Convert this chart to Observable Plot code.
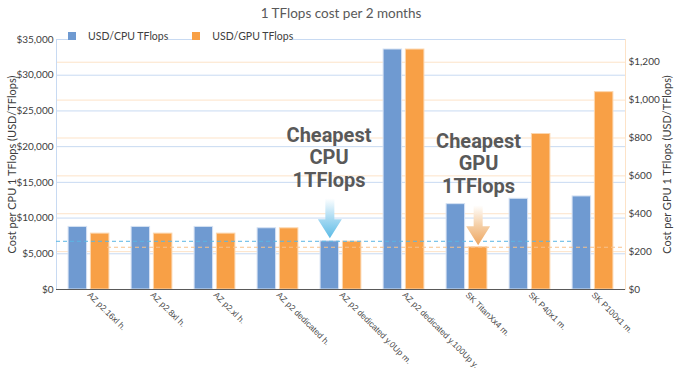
<!DOCTYPE html>
<html><head><meta charset="utf-8">
<script src="https://cdn.jsdelivr.net/npm/d3@7"></script>
<script src="https://cdn.jsdelivr.net/npm/@observablehq/plot@0.6"></script>
<style>
body{margin:0;background:#fff;font-family:Lato,"Open Sans",sans-serif;}
#wrap{position:relative;width:682px;height:377px;overflow:hidden;}
#title{position:absolute;top:5px;left:0;width:682px;text-align:center;font-size:13.5px;color:#595959;z-index:2;}
#legend{position:absolute;top:29px;left:68px;display:flex;gap:24px;font-size:10.5px;color:#404040;z-index:2;}
.item{display:flex;align-items:center;background:#fff;height:14px;}
.sw{width:8px;height:8px;margin-right:12px;display:inline-block;}
#chart{position:absolute;top:0;left:0;}
g[aria-label="annotation"] text{filter:drop-shadow(1px 2px 1.5px rgba(0,0,0,0.35));}
</style></head><body>
<div id="wrap">
<div id="title">1 TFlops cost per 2 months</div>
<div id="legend"></div>
<div id="chart"></div>
</div>
<script>
const categories = ["AZ p2.16xl h.", "AZ p2.8xl h.", "AZ p2.xl h.", "AZ p2 dedicated h.", "AZ p2 dedicated y.0Up m.", "AZ p2 dedicated y.100Up y.", "SK TitanXx4 m.", "SK P40x1 m.", "SK P100x1 m."];
const seriesNames = ["USD/CPU TFlops", "USD/GPU TFlops"];
const cpuValues = [8760, 8760, 8760, 8575, 6750, 33600, 11950, 12700, 13030];
const gpuValues = [295, 295, 295, 323, 253, 1267, 223, 821, 1042];
const cpuTicks = [0, 5000, 10000, 15000, 20000, 25000, 30000, 35000];
const gpuTicks = [0, 200, 400, 600, 800, 1000, 1200];
const cpuAxisMax = 35000;
const gpuAxisMax = 1320;
const annotationLabels = ["Cheapest\nCPU\n1TFlops", "Cheapest\nGPU\n1TFlops"];
const yLabels = ["Cost per CPU 1 TFlops (USD/TFlops)", "Cost per GPU 1 TFlops (USD/TFlops)"];

const cpuColor = "#6f9ad1", gpuColor = "#f8a046";
const k = cpuAxisMax / gpuAxisMax; // GPU -> shared y scale
const data = categories.map((c, i) => ({category: c, cpu: cpuValues[i], gpu: gpuValues[i]}));
const cpuMin = d3.min(cpuValues), gpuMin = d3.min(gpuValues);
const cpuAnn = [{category: categories[d3.minIndex(cpuValues)], v: cpuMin, label: annotationLabels[0]}];
const gpuAnn = [{category: categories[d3.minIndex(gpuValues)], v: gpuMin * k, label: annotationLabels[1]}];
const money = d3.format(",");

const arrowSymbol = {draw(ctx) {
  ctx.moveTo(-4.5, -40); ctx.lineTo(4.5, -40); ctx.lineTo(4.5, -19); ctx.lineTo(12, -19);
  ctx.lineTo(0, 0); ctx.lineTo(-12, -19); ctx.lineTo(-4.5, -19); ctx.closePath();
}};

const font = "Lato, 'Open Sans', sans-serif";
const annFont = "Roboto, 'Open Sans', sans-serif";

const plot = Plot.plot({
  width: 682, height: 377,
  marginTop: 39, marginBottom: 88, marginLeft: 56, marginRight: 57,
  style: {fontFamily: font, fontSize: "10px", color: "#404040", background: "#fff"},
  x: {domain: categories, padding: 0, axis: null},
  y: {domain: [0, cpuAxisMax], axis: null},
  marks: [
    Plot.gridY(cpuTicks, {stroke: "#c8daf2", strokeOpacity: 1}),
    Plot.gridY(gpuTicks.map(v => v * k), {stroke: "#fde3c8", strokeOpacity: 1}),
    Plot.frame({anchor: "left", stroke: "#c8daf2"}),
    Plot.frame({anchor: "right", stroke: "#fde3c8"}),
    Plot.barY(data, {x: "category", y: "cpu", fill: cpuColor, stroke: "#d6e2f3", strokeWidth: 1, insetLeft: 11.1, insetRight: 33.4}),
    Plot.barY(data, {x: "category", y: d => d.gpu * k, fill: gpuColor, stroke: "#fcd6ae", strokeWidth: 1, insetLeft: 33.4, insetRight: 11.1}),
    Plot.ruleY([cpuMin], {stroke: "#5ab5e4", strokeDasharray: "4,3", insetRight: 53}),
    Plot.ruleY([gpuMin * k], {stroke: "#f7c18c", strokeDasharray: "4,3", insetLeft: 51}),
    Plot.ruleY([0], {stroke: "#595959", strokeWidth: 1}),
    Plot.axisY(cpuTicks, {anchor: "left", tickSize: 0, tickPadding: 3, label: null, tickFormat: d => "$" + money(d), color: "#404040"}),
    Plot.axisY(gpuTicks.map(v => v * k), {anchor: "right", tickSize: 0, tickPadding: 3, label: null, tickFormat: d => "$" + money(Math.round(d / k)), color: "#404040"}),
    Plot.axisX({tickRotate: 45, tickSize: 0, tickPadding: 4, textAnchor: "start", fontSize: 8.5, fontFamily: "'Liberation Sans', Arial, sans-serif", color: "#4a4a4a", label: null}),
    Plot.text([yLabels[0]], {frameAnchor: "left", textAnchor: "middle", rotate: -90, dx: -44, fontSize: 11, fill: "#404040"}),
    Plot.text([yLabels[1]], {frameAnchor: "right", textAnchor: "middle", rotate: -90, dx: 42, fontSize: 11, fill: "#404040"}),
    Plot.dot(cpuAnn, {x: "category", y: "v", symbol: arrowSymbol, fill: "url(#gradBlue)", stroke: "none", dx: -11.15, dy: -3}),
    Plot.dot(gpuAnn, {x: "category", y: "v", symbol: arrowSymbol, fill: "url(#gradOrange)", stroke: "none", dx: 11.15, dy: -2}),
    Plot.text(cpuAnn, {x: "category", y: "v", text: "label", dx: -12, dy: -84, fontSize: 20, fontWeight: "bold", fontFamily: annFont, fill: "#595959", lineHeight: 1.12, ariaLabel: "annotation"}),
    Plot.text(gpuAnn, {x: "category", y: "v", text: "label", dx: 11.5, dy: -84, fontSize: 20, fontWeight: "bold", fontFamily: annFont, fill: "#595959", lineHeight: 1.12, ariaLabel: "annotation"})
  ]
});

d3.select(plot).insert("defs", ":first-child").html(
  '<linearGradient id="gradBlue" x1="0" y1="0" x2="0" y2="1">' +
  '<stop offset="0" stop-color="#ffffff"/><stop offset="0.5" stop-color="#a8daf2"/><stop offset="1" stop-color="#5bbbe6"/></linearGradient>' +
  '<linearGradient id="gradOrange" x1="0" y1="0" x2="0" y2="1">' +
  '<stop offset="0" stop-color="#ffffff"/><stop offset="0.5" stop-color="#f5cfa6"/><stop offset="1" stop-color="#eea55f"/></linearGradient>'
);
document.getElementById("chart").appendChild(plot);

const legend = d3.select("#legend");
[[seriesNames[0], cpuColor], [seriesNames[1], gpuColor]].forEach(([name, col]) => {
  const it = legend.append("div").attr("class", "item");
  it.append("span").attr("class", "sw").style("background", col);
  it.append("span").text(name);
});
</script>
</body></html>
